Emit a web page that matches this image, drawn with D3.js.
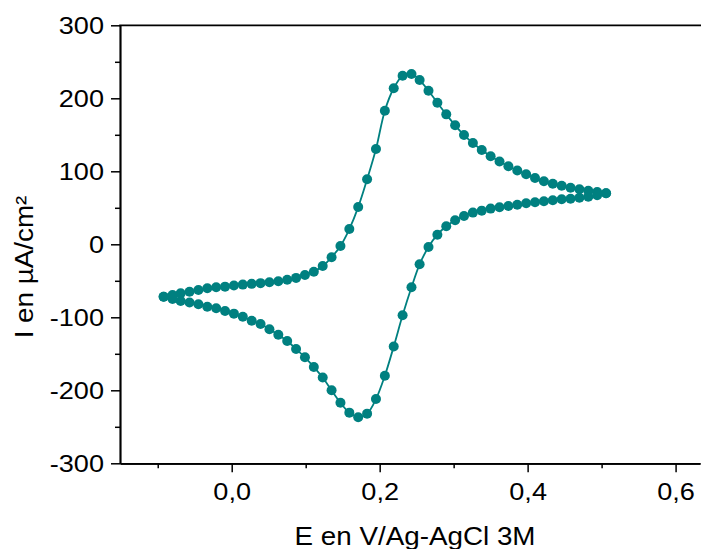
<!DOCTYPE html>
<html>
<head>
<meta charset="utf-8">
<script src="https://cdn.jsdelivr.net/npm/d3@7"></script>
<style>
  html, body { margin: 0; padding: 0; background: #fff; }
  svg { display: block; }
  text { font-family: "Liberation Sans", Arial, sans-serif; fill: #000; }
</style>
</head>
<body>
<svg id="chart" width="701" height="549"></svg>
<script>
// ---- data ----
const potential = [
  -0.092, -0.080, -0.069, -0.057, -0.045, -0.033, -0.021, -0.009, 0.003, 0.015,
   0.027,  0.039,  0.051,  0.063,  0.075,  0.087,  0.099,  0.111, 0.123, 0.135,
   0.147,  0.159,  0.171,  0.183,  0.195,  0.207,  0.219,  0.231, 0.243, 0.254,
   0.266,  0.278,  0.290,  0.302,  0.314,  0.326,  0.338,  0.350, 0.362, 0.374,
   0.386,  0.398,  0.410,  0.422,  0.434,  0.446,  0.458,  0.470, 0.482, 0.494,
   0.506
];
// anodic (forward) scan, same order as potential
const currentForward = [
  -71.8, -69.4, -67.2, -64.9, -62.6, -60.3, -58.9, -58.0, -56.5, -55.2,
  -54.2, -53.2, -52.0, -50.6, -48.5, -46.0, -42.0, -37.5, -29.7, -17.8,
   -2.3,  20.9,  51.0,  89.0, 130.5, 183.0, 213.7, 231.0, 233.3, 225.0,
  210.4, 194.0, 178.0, 163.0, 149.7, 138.8, 129.2, 120.5, 113.5, 107.0,
  101.0,  95.9,  90.8,  86.3,  83.0,  80.3,  77.5,  75.3,  73.4,  71.6,
   69.9
];
// cathodic (return) scan, listed in the same potential order
const currentReverse = [
  -71.8, -75.0, -77.6, -79.8, -82.2, -85.5, -87.7, -91.4, -95.0, -99.2,
 -104.7,-109.2,-116.4,-123.8,-132.5,-143.4,-154.8,-168.0,-182.5,-200.0,
 -217.0,-230.6,-236.9,-232.0,-212.0,-180.0,-140.0, -97.3, -58.9, -27.4,
   -3.7,  13.2,  24.7,  32.9,  38.8,  43.4,  46.1,  48.9,  50.8,  52.5,
   54.2,  56.2,  57.5,  58.9,  60.3,  61.6,  62.5,  63.8,  65.2,  67.1,
   69.9
];
const xMajorTicks = [0, 0.2, 0.4, 0.6];
const xMinorTicks = [-0.1, 0.1, 0.3, 0.5];
const yMajorTicks = [-300, -200, -100, 0, 100, 200, 300];
const yMinorTicks = [-250, -150, -50, 50, 150, 250];
const xTitle = "E en V/Ag-AgCl 3M";
const yTitle = "I en µA/cm²";

// ---- layout ----
const svg = d3.select("#chart");
const plotLeft = 120, plotRight = 700, plotTop = 25.3, plotBottom = 463.3;
const color = "#008080";

const x = d3.scaleLinear().domain([-0.151, 0.633]).range([plotLeft, plotRight]);
const y = d3.scaleLinear().domain([-300, 300]).range([plotBottom, plotTop]);

const fmtX = d => d3.format(".1f")(d).replace(".", ",").replace("−", "-");
const fmtY = d => String(d);

const tickFont = 24, tickStretch = 1.13;

// x axis
const gx = svg.append("g").attr("transform", `translate(0,${plotBottom})`);
gx.call(d3.axisBottom(x).tickValues(xMajorTicks).tickSize(9).tickSizeOuter(0).tickFormat(fmtX));
gx.append("g").call(d3.axisBottom(x).tickValues(xMinorTicks).tickSize(5).tickSizeOuter(0).tickFormat(""));
gx.selectAll("text")
  .attr("y", 36.7).attr("dy", null)
  .attr("font-size", tickFont)
  .attr("transform", `scale(${tickStretch},1)`);

// y axis
const gy = svg.append("g").attr("transform", `translate(${plotLeft},0)`);
gy.call(d3.axisLeft(y).tickValues(yMajorTicks).tickSize(9).tickSizeOuter(0).tickFormat(fmtY));
gy.append("g").call(d3.axisLeft(y).tickValues(yMinorTicks).tickSize(5).tickSizeOuter(0).tickFormat(""));
gy.selectAll("text")
  .attr("x", -16 / tickStretch).attr("dy", "0.35em")
  .attr("font-size", tickFont)
  .attr("transform", `scale(${tickStretch},1)`);

svg.selectAll(".domain").attr("stroke", "#000").attr("stroke-width", 1.7);
svg.selectAll(".tick line").attr("stroke", "#000").attr("stroke-width", 1.5);

// top frame line
svg.append("line")
  .attr("x1", x.range()[0] - 0.8).attr("x2", x.range()[1] + 1)
  .attr("y1", y(300)).attr("y2", y(300))
  .attr("stroke", "#000").attr("stroke-width", 1.7);

// axis titles
const titleFont = 26, titleStretch = 1.07;
svg.append("text")
  .attr("text-anchor", "middle")
  .attr("font-size", titleFont)
  .attr("transform", `translate(415,545) scale(${titleStretch},1)`)
  .text(xTitle);
svg.append("text")
  .attr("text-anchor", "middle")
  .attr("font-size", titleFont)
  .attr("transform", `translate(32.5,267) rotate(-90) scale(${titleStretch},1)`)
  .text(yTitle);

// ---- data series ----
const forwardPts = potential.map((e, i) => [e, currentForward[i]]);
const reversePts = potential.map((e, i) => [e, currentReverse[i]]).reverse();
const loop = forwardPts.concat(reversePts.slice(1));

const line = d3.line().x(d => x(d[0])).y(d => y(d[1])).curve(d3.curveCatmullRom.alpha(0.5));
svg.append("path")
  .attr("d", line(loop))
  .attr("fill", "none")
  .attr("stroke", color)
  .attr("stroke-width", 1.8);

svg.append("g").selectAll("circle")
  .data(forwardPts.concat(reversePts))
  .join("circle")
  .attr("cx", d => x(d[0]))
  .attr("cy", d => y(d[1]))
  .attr("r", 5)
  .attr("fill", color);
</script>
</body>
</html>
